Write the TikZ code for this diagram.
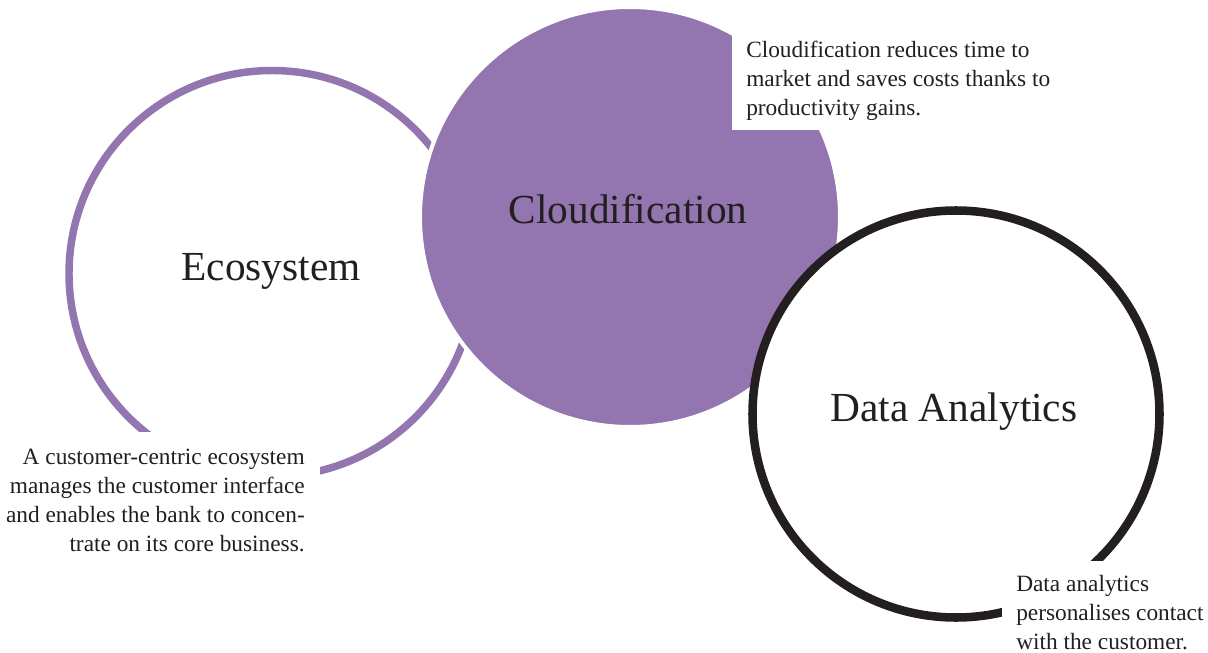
\documentclass[tikz,border=0pt]{standalone}
\usepackage{fontspec}
\setmainfont{Liberation Serif}
\definecolor{lilac}{RGB}{147,117,176}
\definecolor{ink}{RGB}{35,31,32}
\begin{document}
\begin{tikzpicture}[x=0.75pt,y=-0.75pt,
  title/.style={font=\fontsize{31pt}{36pt}\selectfont, text=ink, inner sep=0pt, anchor=base},
  note/.style={font=\fontsize{17.5pt}{21.75pt}\selectfont, text=ink, inner sep=0pt},
  ring/.style={circle, inner sep=0pt, outer sep=0pt}]
\useasboundingbox (0,0) rectangle (1208,653);
\fill[white] (0,0) rectangle (1208,653);

% three overlapping circles
\node[ring, draw=lilac, line width=5.6pt, minimum size=304.5pt] (eco) at (272,273.5) {};
\node[ring, fill=lilac, draw=white, line width=3pt, minimum size=315pt] (cloud) at (630,217) {};
\node[ring, fill=white, draw=ink, line width=6.4pt, minimum size=305.25pt] (data) at (956,414) {};

% white panels behind the notes
\fill[white] (732,0) rectangle (1208,130);
\fill[white] (0,432) rectangle (320,653);
\fill[white] (1002,561) rectangle (1208,653);

% titles
\node[title] (ecot) at (271,280) {Ecosystem};
\node[title] (cloudt) at (628,223) {Cloudification};
\node[title] (datat) at (954,421) {Data Analytics};

% notes (anchored at the baseline of their last line)
\node[note, align=left, anchor=base west] (cloudn) at (746,115)
  {Cloudification reduces time to\\market and saves costs thanks to\\productivity gains.};
\node[note, align=right, anchor=base east] (econ) at (305,551)
  {A customer-centric ecosystem\\manages the customer interface\\and enables the bank to concen-\\trate on its core business.};
\node[note, align=left, anchor=base west] (datan) at (1016,649)
  {Data analytics\\personalises contact\\with the customer.};
\end{tikzpicture}
\end{document}
